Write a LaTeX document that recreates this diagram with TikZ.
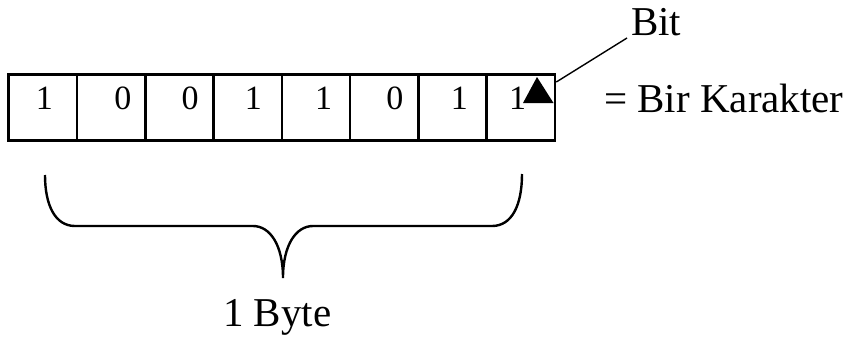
\documentclass[tikz,border=0pt]{standalone}
\usepackage{fontspec}
\setmainfont{Liberation Serif}
\begin{document}
\begin{tikzpicture}[x=1pt,y=-1pt,
  cell/.style={draw,line width=2.6pt,minimum width=68.3pt,minimum height=65.7pt,inner sep=0pt,anchor=north west},
  digit/.style={inner sep=0pt,anchor=base,font=\fontsize{34}{38}\selectfont},
  lbl/.style={inner sep=0pt,anchor=base west,font=\fontsize{41}{48}\selectfont},
  brace/.style={line width=2.4pt},
  leader/.style={line width=1.4pt}]
\useasboundingbox (0,0) rectangle (855,338);
% the eight bit cells
\foreach \i in {0,...,7} {
  \node[cell] (c\i) at ({7.3+68.3*\i},73.3) {};
}
% bit values
\foreach \i/\d/\dx in {0/1/3,1/0/13,2/0/12,3/1/7,4/1/9,5/0/12,6/1/8,7/1/-2} {
  \node[digit] (d\i) at ({7.3+68.3*\i+34.15+\dx},109) {\d};
}
% marker triangle in the last cell
\fill (537,77) -- (553.5,103) -- (523,103) -- cycle;
% labels
\node[lbl] (bit) at (631,35) {Bit};
\node[lbl] (kar) at (604,112) {= Bir Karakter};
\node[lbl] (byte) at (223,326) {1 Byte};
% leader from the last cell to "Bit"
\coordinate (lstart) at (c7.north east |- 0,82);
\coordinate (lend) at (627,38);
\draw[leader] (lstart) -- (lend);
% brace under the byte
\draw[brace] (45,175) .. controls (45,205) and (55,226) .. (75,226) -- (253,226)
  .. controls (270,226) and (283,245) .. (283,278)
  .. controls (283,245) and (296,226) .. (313,226) -- (492,226)
  .. controls (512,226) and (522,205) .. (522,174);
\end{tikzpicture}
\end{document}
